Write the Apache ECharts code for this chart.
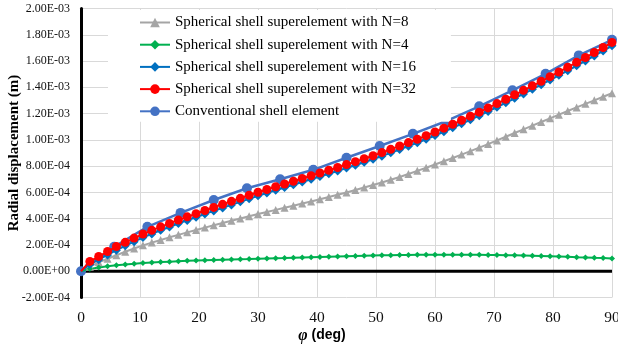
<!DOCTYPE html>
<html>
<head>
<meta charset="utf-8">
<script src="https://cdn.jsdelivr.net/npm/echarts@6/dist/echarts.min.js"></script>
<style>
html,body{margin:0;padding:0;background:#fff;}
#chart{width:618px;height:346px;}
</style>
</head>
<body>
<div id="chart"></div>
<script>
// Angles (deg)
var phiFine = [0,1.5,3,4.5,6,7.5,9,10.5,12,13.5,15,16.5,18,19.5,21,22.5,24,25.5,27,28.5,30,31.5,33,34.5,36,37.5,39,40.5,42,43.5,45,46.5,48,49.5,51,52.5,54,55.5,57,58.5,60,61.5,63,64.5,66,67.5,69,70.5,72,73.5,75,76.5,78,79.5,81,82.5,84,85.5,87,88.5,90];
var phiConv = [0,5.625,11.25,16.875,22.5,28.125,33.75,39.375,45,50.625,56.25,61.875,67.5,73.125,78.75,84.375,90];

// Radial displacement, in units of 1E-03 m
var uN8 = [0,0.035,0.068,0.095,0.122,0.148,0.173,0.197,0.218,0.238,0.258,0.277,0.296,0.314,0.332,0.350,0.367,0.384,0.401,0.418,0.435,0.451,0.467,0.483,0.499,0.515,0.531,0.548,0.565,0.582,0.600,0.618,0.637,0.656,0.676,0.696,0.717,0.740,0.764,0.788,0.812,0.837,0.862,0.888,0.914,0.941,0.968,0.996,1.024,1.052,1.080,1.108,1.136,1.164,1.192,1.220,1.247,1.274,1.301,1.328,1.355];
var uN4 = [0,0.018,0.029,0.038,0.045,0.051,0.057,0.062,0.066,0.070,0.073,0.076,0.079,0.082,0.084,0.086,0.088,0.090,0.092,0.093,0.095,0.097,0.099,0.100,0.102,0.104,0.106,0.108,0.110,0.112,0.114,0.116,0.118,0.120,0.121,0.122,0.123,0.124,0.125,0.125,0.126,0.126,0.126,0.126,0.125,0.125,0.124,0.123,0.122,0.121,0.120,0.118,0.116,0.114,0.112,0.110,0.107,0.105,0.102,0.100,0.097];
var uN16 = [0,0.052,0.088,0.124,0.160,0.193,0.225,0.256,0.284,0.311,0.337,0.363,0.387,0.411,0.435,0.459,0.482,0.505,0.528,0.551,0.574,0.595,0.616,0.637,0.658,0.679,0.700,0.721,0.742,0.763,0.785,0.807,0.829,0.852,0.876,0.901,0.926,0.952,0.978,1.005,1.033,1.062,1.092,1.122,1.153,1.184,1.216,1.249,1.282,1.316,1.350,1.385,1.420,1.455,1.491,1.527,1.564,1.601,1.639,1.677,1.716];
var uN32 = [0,0.075,0.112,0.150,0.188,0.220,0.252,0.283,0.311,0.338,0.364,0.390,0.414,0.438,0.462,0.486,0.509,0.532,0.555,0.578,0.601,0.622,0.643,0.664,0.685,0.706,0.727,0.748,0.769,0.790,0.812,0.834,0.856,0.879,0.903,0.928,0.953,0.979,1.005,1.032,1.060,1.089,1.119,1.149,1.180,1.211,1.243,1.276,1.309,1.343,1.377,1.411,1.446,1.481,1.517,1.553,1.590,1.627,1.665,1.703,1.742];
var uConv = [0,0.186,0.338,0.444,0.542,0.632,0.700,0.772,0.864,0.953,1.046,1.142,1.255,1.377,1.503,1.643,1.762];

var zeroLineX = [0,90];
var zeroLineY = [0,0];

var names = [
  'Spherical shell superelement with N=8',
  'Spherical shell superelement with N=4',
  'Spherical shell superelement with N=16',
  'Spherical shell superelement with N=32',
  'Conventional shell element'
];

function pairs(xs, ys, scale, hideFirst) {
  return xs.map(function (x, i) {
    var p = [x, ys[i] * scale];
    if (hideFirst && i === 0) return {value: p, symbol: 'none'};
    return p;
  });
}

function fmtE(v) {
  if (Math.abs(v) < 1e-12) return '0.00E+00';
  var e = Math.floor(Math.log10(Math.abs(v)) + 1e-9);
  var m = v / Math.pow(10, e);
  var s = e < 0 ? '-' : '+';
  var ae = Math.abs(e);
  return m.toFixed(2) + 'E' + s + (ae < 10 ? '0' : '') + ae;
}

var serif = 'Liberation Serif';
var chart = echarts.init(document.getElementById('chart'), null, {renderer: 'canvas'});
chart.setOption({
  animation: false,
  backgroundColor: '#fff',
  grid: {left: 81, right: 6, top: 8.5, bottom: 48.5, containLabel: false, outerBoundsMode: 'none'},
  legend: {
    data: names,
    orient: 'vertical',
    left: 108,
    top: 10,
    padding: [4.5, 35, 2.5, 31],
    itemWidth: 30,
    itemHeight: 12,
    itemGap: 6.2,
    backgroundColor: '#fff',
    textStyle: {fontFamily: serif, fontSize: 15, color: '#000', lineHeight: 16}
  },
  xAxis: {
    type: 'value',
    min: 0, max: 90, interval: 10,
    axisLine: {show: false, onZero: false},
    axisTick: {show: false},
    axisLabel: {fontFamily: serif, fontSize: 15.5, color: '#111', margin: 12},
    splitLine: {show: true, lineStyle: {color: '#d9d9d9', width: 1}},
    name: '{phi|φ}{t| (deg)}',
    nameLocation: 'middle',
    nameGap: 30,
    nameMoveOverlap: false,
    nameTextStyle: {
      padding: [0, 49, 0, 0],
      rich: {
        phi: {fontFamily: serif, fontStyle: 'italic', fontWeight: 'bold', fontSize: 16, color: '#000', lineHeight: 16},
        t: {fontFamily: 'Liberation Sans', fontWeight: 'bold', fontSize: 14, color: '#000', lineHeight: 16}
      }
    }
  },
  yAxis: {
    type: 'value',
    min: -0.0002, max: 0.002, interval: 0.0002,
    axisLine: {show: true, onZero: false, lineStyle: {color: '#000', width: 3}},
    axisTick: {show: false},
    axisLabel: {fontFamily: serif, fontSize: 12, color: '#111', margin: 11, formatter: fmtE},
    splitLine: {show: true, lineStyle: {color: '#d9d9d9', width: 1}},
    name: 'Radial displacement (m)',
    nameLocation: 'middle',
    nameGap: 59,
    nameMoveOverlap: false,
    nameTextStyle: {fontFamily: serif, fontWeight: 'bold', fontSize: 15, color: '#000'}
  },
  series: [
    {
      name: 'zero', type: 'line', silent: true, symbol: 'none',
      data: pairs(zeroLineX, zeroLineY, 1, false),
      lineStyle: {color: '#000', width: 3}, z: 1
    },
    {
      name: names[4], type: 'line', data: pairs(phiConv, uConv, 1e-3, false),
      symbol: 'circle', symbolSize: 10, color: '#4472C4',
      lineStyle: {width: 2.5, color: '#4472C4'}, itemStyle: {color: '#4472C4'}, z: 2
    },
    {
      name: names[0], type: 'line', data: pairs(phiFine, uN8, 1e-3, true),
      symbol: 'triangle', symbolSize: 8, color: '#A5A5A5',
      lineStyle: {width: 2, color: '#A5A5A5'}, itemStyle: {color: '#A5A5A5'}, z: 3
    },
    {
      name: names[1], type: 'line', data: pairs(phiFine, uN4, 1e-3, true),
      symbol: 'diamond', symbolSize: 6, color: '#00B050',
      lineStyle: {width: 2, color: '#00B050'}, itemStyle: {color: '#00B050'}, z: 3
    },
    {
      name: names[2], type: 'line', data: pairs(phiFine, uN16, 1e-3, true),
      symbol: 'diamond', symbolSize: 9, color: '#0070C0',
      lineStyle: {width: 2, color: '#0070C0'}, itemStyle: {color: '#0070C0'}, z: 3
    },
    {
      name: names[3], type: 'line', data: pairs(phiFine, uN32, 1e-3, true),
      symbol: 'circle', symbolSize: 9, color: '#FF0000',
      lineStyle: {width: 2, color: '#FF0000'}, itemStyle: {color: '#FF0000'}, z: 4
    }
  ]
});
</script>
</body>
</html>
